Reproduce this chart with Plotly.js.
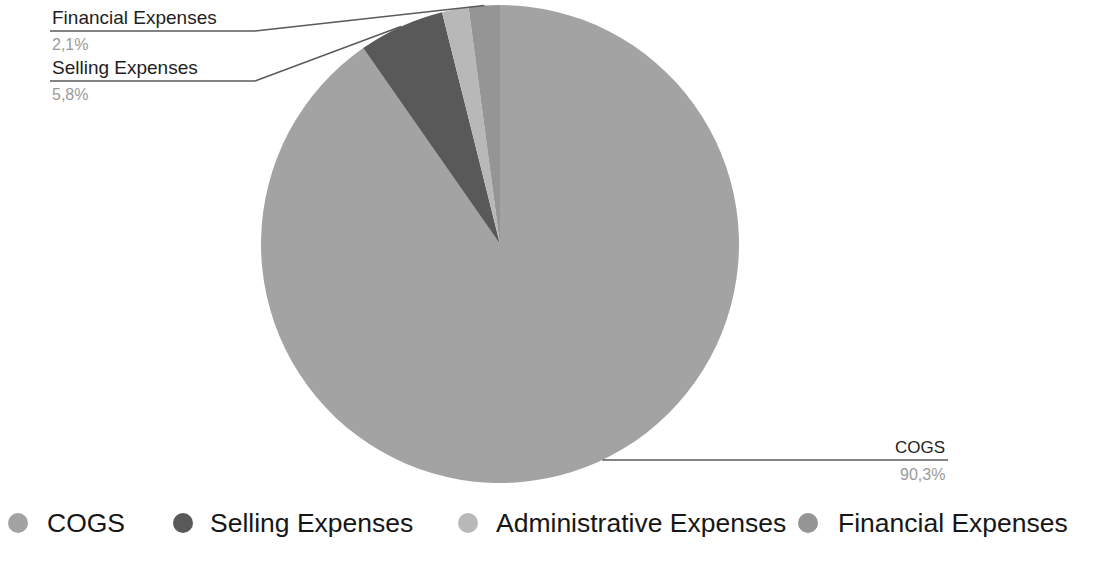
<!DOCTYPE html>
<html>
<head>
<meta charset="utf-8">
<script src="https://cdn.plot.ly/plotly-3.0.1.min.js"></script>
<style>html,body{margin:0;padding:0;background:#fff;}#chart{width:1103px;height:568px;}</style>
</head>
<body>
<div id="chart"></div>
<script>
// ---- data ----
const categories = ['COGS', 'Selling Expenses', 'Administrative Expenses', 'Financial Expenses'];
const values = [90.3, 5.8, 1.8, 2.1];
const pctLabels = ['90,3%', '5,8%', '1,8%', '2,1%'];
const colors = ['#a3a3a3', '#595959', '#b8b8b8', '#959595'];
const labelledSlices = [0, 1, 3];

// ---- layout geometry (pixels) ----
const W = 1103, H = 568;
const cx = 500, cy = 244, R = 239;
const labelBoxes = {
  0: {x: 947, y: 447, anchor: 'right', lineFrom: 948, lineY: 460, lineTo: null, size: 17},
  1: {x: 50, y: 68, anchor: 'left', lineFrom: 50, lineTo: 255, lineY: 81, size: 19},
  3: {x: 50, y: 17, anchor: 'left', lineFrom: 50, lineTo: 255, lineY: 31, size: 19}
};
const legendX = [18, 183, 468, 808];
const legendTextX = [45, 208, 494, 836];
const legendY = 523;
const font = 'Liberation Sans, Arial, sans-serif';

const px = x => x / W;
const py = y => 1 - y / H;

const total = values.reduce((a, b) => a + b, 0);
const midAngles = [];
let cum = 0;
values.forEach(v => { midAngles.push((cum + v / 2) / total * 2 * Math.PI); cum += v; });

const shapes = [];
const annotations = [];
const lineStyle = {color: '#5a5a5a', width: 1.4};

labelledSlices.forEach(i => {
  const b = labelBoxes[i];
  if (b.lineTo === null) {
    // horizontal leader that stops where it meets the slice's outer edge
    const dy = b.lineY - cy;
    const edgeX = cx + Math.sign(Math.sin(midAngles[i])) * Math.sqrt(R * R - dy * dy);
    shapes.push({type: 'line', xref: 'paper', yref: 'paper', x0: px(b.lineFrom), y0: py(b.lineY), x1: px(edgeX), y1: py(b.lineY), line: lineStyle});
  } else {
    const a = midAngles[i];
    const ex = cx + R * Math.sin(a), ey = cy - R * Math.cos(a);
    shapes.push({type: 'line', xref: 'paper', yref: 'paper', x0: px(b.lineFrom), y0: py(b.lineY), x1: px(b.lineTo), y1: py(b.lineY), line: lineStyle});
    shapes.push({type: 'line', xref: 'paper', yref: 'paper', x0: px(b.lineTo), y0: py(b.lineY), x1: px(ex), y1: py(ey), line: lineStyle});
  }
  annotations.push({xref: 'paper', yref: 'paper', x: px(b.x), y: py(b.y), xanchor: b.anchor, yanchor: 'middle', showarrow: false, text: categories[i], font: {family: font, size: b.size, color: '#1e1e1e'}});
  annotations.push({xref: 'paper', yref: 'paper', x: px(b.x), y: py(b.lineY + 14), xanchor: b.anchor, yanchor: 'middle', showarrow: false, text: pctLabels[i], font: {family: font, size: 16, color: '#9a9a9a'}});
});

categories.forEach((c, i) => {
  shapes.push({type: 'circle', xref: 'paper', yref: 'paper', x0: px(legendX[i] - 10), x1: px(legendX[i] + 10), y0: py(legendY - 10), y1: py(legendY + 10), fillcolor: colors[i], line: {width: 0}});
  annotations.push({xref: 'paper', yref: 'paper', x: px(legendTextX[i]), y: py(legendY), xanchor: 'left', yanchor: 'middle', showarrow: false, text: c, font: {family: font, size: 26.5, color: '#161616'}});
});

const trace = {
  type: 'pie',
  labels: categories,
  values: values,
  sort: false,
  direction: 'clockwise',
  rotation: 0,
  textinfo: 'none',
  marker: {colors: colors, line: {width: 0}},
  domain: {x: [px(cx - R), px(cx + R)], y: [py(cy + R), py(cy - R)]},
  showlegend: false
};

Plotly.newPlot('chart', [trace], {
  width: W, height: H,
  margin: {l: 0, r: 0, t: 0, b: 0},
  paper_bgcolor: '#ffffff',
  showlegend: false,
  shapes: shapes,
  annotations: annotations
}, {displayModeBar: false, staticPlot: true});
</script>
</body>
</html>
